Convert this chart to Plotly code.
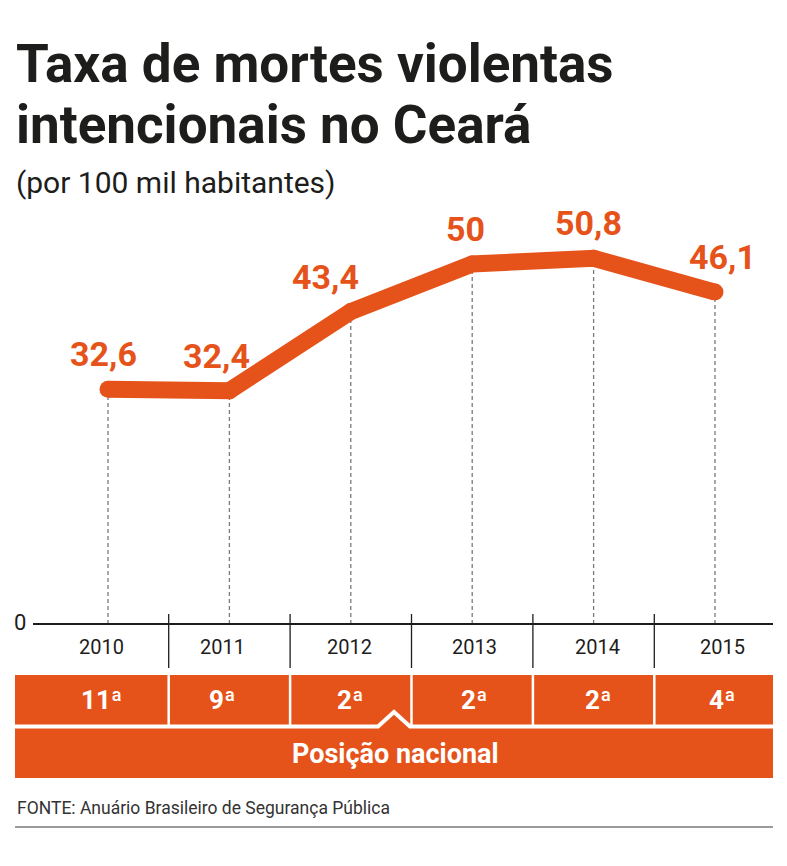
import plotly.graph_objects as go

# ---------------- data ----------------
years = [2010, 2011, 2012, 2013, 2014, 2015]
rates = [32.6, 32.4, 43.4, 50.0, 50.8, 46.1]
rate_labels = ["32,6", "32,4", "43,4", "50", "50,8", "46,1"]
ranks = ["11ª", "9ª", "2ª", "2ª", "2ª", "4ª"]
year_labels = [str(y) for y in years]

title_lines = ["Taxa de mortes violentas", "intencionais no Ceará"]
subtitle = "(por 100 mil habitantes)"
band_label = "Posição nacional"
source = "FONTE: Anuário Brasileiro de Segurança Pública"

# ---------------- styling / geometry ----------------
PAGE_W, PAGE_H = 787, 866
OFF = 8                                  # default body margin of the page
W, H = PAGE_W - 2 * OFF, PAGE_H - 2 * OFF
ORANGE = "#E5531A"
DARK = "#1d1d1b"
FONT = "Roboto"

X0_PX, X_STEP_PX = 108, 121.4   # page pixel of first year, pixels per year
Y0_PX, Y_UNIT_PX = 624, 7.2     # page pixel of value 0, pixels per unit

label_dx = [-5, -13, -25, -7, -5, 7]   # horizontal nudges of value labels (px)
col_dx = [-7, -7, -1, 2, 4, 7]         # nudges of year / rank labels (px)


def px(x):
    return (x - OFF) / W


def py(y):
    return 1 - (y - OFF) / H


xrange = [years[0] - (X0_PX - OFF) / X_STEP_PX, years[0] + (OFF + W - X0_PX) / X_STEP_PX]
yrange = [-(OFF + H - Y0_PX) / Y_UNIT_PX, (Y0_PX - OFF) / Y_UNIT_PX]

fig = go.Figure()

fig.add_trace(go.Scatter(
    x=years, y=rates, mode="lines+markers",
    line=dict(color=ORANGE, width=17),
    marker=dict(color=ORANGE, size=17),
    hoverinfo="skip", showlegend=False,
))

shapes = []
# dashed drop lines
for yr, v in zip(years, rates):
    shapes.append(dict(type="line", xref="x", yref="y", x0=yr, x1=yr, y0=0, y1=v,
                       line=dict(color="#7a7a7a", width=1.3, dash="4px,3px"), layer="below"))
# axis baseline
shapes.append(dict(type="line", xref="paper", yref="y", x0=px(33), x1=px(773), y0=0, y1=0,
                   line=dict(color=DARK, width=2.2)))
# column separators (ticks between years)
for yr in years[:-1]:
    shapes.append(dict(type="line", xref="x", yref="paper", x0=yr + 0.5, x1=yr + 0.5,
                       y0=py(668), y1=py(614), line=dict(color=DARK, width=1.3)))
# orange band
shapes.append(dict(type="rect", xref="paper", yref="paper", x0=px(15), x1=px(773),
                   y0=py(778), y1=py(675), fillcolor=ORANGE, line=dict(width=0)))
# white separators in the rank row
for yr in years[:-1]:
    shapes.append(dict(type="line", xref="x", yref="paper", x0=yr + 0.5, x1=yr + 0.5,
                       y0=py(725), y1=py(675), line=dict(color="white", width=2.5)))
# white divider with chevron
pts = [(15, 726.5), (378, 726.5), (394, 712), (410, 726.5), (773, 726.5)]
path = "M " + " L ".join(f"{px(a):.5f},{py(b):.5f}" for a, b in pts)
shapes.append(dict(type="path", xref="paper", yref="paper", path=path,
                   line=dict(color="white", width=4)))
# bottom rule
shapes.append(dict(type="line", xref="paper", yref="paper", x0=px(15), x1=px(773),
                   y0=py(827), y1=py(827), line=dict(color="#9a9a9a", width=2)))

annotations = []
# title
for i, t in enumerate(title_lines):
    annotations.append(dict(text=f"<b>{t}</b>", xref="paper", yref="paper", x=px(14),
                            y=py(64 + 61 * i), xanchor="left", yanchor="middle", showarrow=False,
                            font=dict(family=FONT, size=53, color=DARK)))
annotations.append(dict(text=subtitle, xref="paper", yref="paper", x=px(14), y=py(182),
                        xanchor="left", yanchor="middle", showarrow=False,
                        font=dict(family=FONT, size=30, color=DARK)))
# value labels
for yr, v, lab, dx in zip(years, rates, rate_labels, label_dx):
    annotations.append(dict(text=f"<b>{lab}</b>", xref="x", yref="y", x=yr, y=v,
                            xshift=dx, yshift=35, xanchor="center", yanchor="middle",
                            showarrow=False, font=dict(family=FONT, size=34, color=ORANGE)))
# zero label
annotations.append(dict(text="0", xref="paper", yref="y", x=px(20), y=0, xanchor="center",
                        yanchor="middle", yshift=2, showarrow=False,
                        font=dict(family=FONT, size=22, color=DARK)))
# year labels and ranks
for yr, yl, rk, dx in zip(years, year_labels, ranks, col_dx):
    annotations.append(dict(text=yl, xref="x", yref="paper", x=yr, y=py(647), xshift=dx,
                            xanchor="center", yanchor="middle", showarrow=False,
                            font=dict(family=FONT, size=20, color=DARK)))
    annotations.append(dict(text=f"<b>{rk}</b>", xref="x", yref="paper", x=yr, y=py(700),
                            xshift=dx, xanchor="center", yanchor="middle", showarrow=False,
                            font=dict(family=FONT, size=26, color="white")))
annotations.append(dict(text=f"<b>{band_label}</b>", xref="paper", yref="paper", x=px(395),
                        y=py(754), xanchor="center", yanchor="middle", showarrow=False,
                        font=dict(family=FONT, size=27, color="white")))
annotations.append(dict(text=source, xref="paper", yref="paper", x=px(15), y=py(808),
                        xanchor="left", yanchor="middle", showarrow=False,
                        font=dict(family=FONT, size=17.5, color="#333333")))

fig.update_layout(
    width=W, height=H,
    margin=dict(l=0, r=0, t=0, b=0),
    paper_bgcolor="white", plot_bgcolor="white",
    xaxis=dict(range=xrange, visible=False, fixedrange=True),
    yaxis=dict(range=yrange, visible=False, fixedrange=True),
    shapes=shapes, annotations=annotations, showlegend=False,
)

fig.write_html("out.html", config={"displayModeBar": False})
